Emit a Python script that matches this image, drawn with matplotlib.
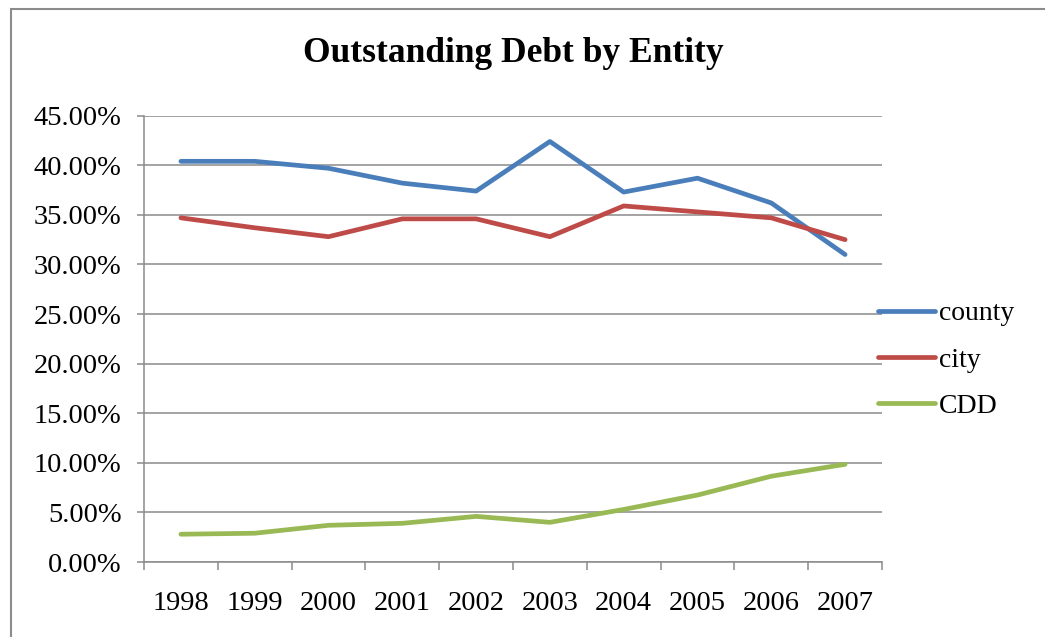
import matplotlib
matplotlib.use("Agg")
import matplotlib.pyplot as plt
import numpy as np
from matplotlib.patches import Rectangle
from matplotlib.ticker import FuncFormatter, FixedLocator

years = ["1998", "1999", "2000", "2001", "2002", "2003", "2004", "2005", "2006", "2007"]
county = [40.4, 40.4, 39.7, 38.2, 37.4, 42.4, 37.3, 38.7, 36.2, 31.0]
city = [34.7, 33.7, 32.8, 34.6, 34.6, 32.8, 35.9, 35.3, 34.7, 32.5]
cdd = [2.8, 2.9, 3.7, 3.9, 4.6, 4.0, 5.3, 6.75, 8.65, 9.85]

plt.rcParams['font.family'] = ['Liberation Serif', 'DejaVu Serif']

W, H = 1045, 637
fig = plt.figure(figsize=(W / 100, H / 100), dpi=100)
ax = fig.add_axes([144 / W, 1 - 562 / H, (882 - 144) / W, (562 - 115.7) / H])

x = np.arange(len(years))
ax.plot(x, county, color='#4A7EBB', lw=3.4, label='county', solid_capstyle='round')
ax.plot(x, city, color='#BE4B48', lw=3.4, label='city', solid_capstyle='round')
ax.plot(x, cdd, color='#98B954', lw=3.4, label='CDD', solid_capstyle='round')

ax.set_xlim(-0.5, len(years) - 0.5)
ax.set_ylim(0, 45)
ax.set_yticks(np.arange(0, 46, 5))
ax.yaxis.set_major_formatter(FuncFormatter(lambda v, p: f"{v:.2f}%"))
ax.grid(axis='y', color='#8a8a8a', lw=1.1)
ax.set_axisbelow(True)

ax.set_xticks(x)
ax.set_xticklabels(years)
ax.xaxis.set_minor_locator(FixedLocator(np.arange(-0.5, len(years), 1.0)))
ax.tick_params(axis='x', which='major', length=0, pad=21, labelsize=20.5)
ax.tick_params(axis='x', which='minor', length=6, width=1.1, color='#8a8a8a', direction='out')
ax.tick_params(axis='y', length=5, width=1.1, color='#8a8a8a', pad=11, labelsize=20.5)

for s in ['top', 'right']:
    ax.spines[s].set_visible(False)
for s in ['left', 'bottom']:
    ax.spines[s].set_color('#8a8a8a')
    ax.spines[s].set_linewidth(1.1)

fig.text(513 / W, 1 - 54 / H, "Outstanding Debt by Entity", ha='center', va='center',
         fontsize=25.5, fontweight='bold')

fig.legend(loc='center left', bbox_to_anchor=(878 / W, 1 - 360 / H), frameon=False,
           fontsize=20, handlelength=2.05, handletextpad=0.15, labelspacing=0.75,
           borderpad=0, borderaxespad=0)

fig.patches.append(Rectangle((11 / W, -0.1), 1.2, 1.1 - 9 / H, transform=fig.transFigure,
                             fill=False, edgecolor='#8c8c8c', lw=1.5))

fig.savefig("out.png", dpi=100)
